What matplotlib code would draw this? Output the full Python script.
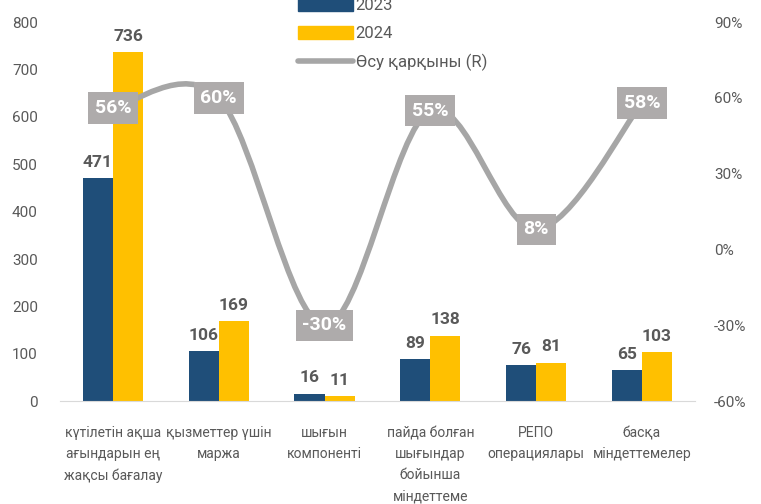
import numpy as np
import matplotlib.pyplot as plt
from matplotlib.path import Path
from matplotlib.patches import PathPatch, Patch
from matplotlib.lines import Line2D

plt.rcParams['font.family'] = ['Roboto', 'DejaVu Sans']

# Data
categories = ['күтілетін ақша\nағындарын ең\nжақсы бағалау', 'қызметтер үшін\nмаржа',
              'шығын\nкомпоненті', 'пайда болған\nшығындар\nбойынша\nміндеттеме',
              'РЕПО\nоперациялары', 'басқа\nміндеттемелер']
v2023 = [471, 106, 16, 89, 76, 65]
v2024 = [736, 169, 11, 138, 81, 103]
growth = [56, 60, -30, 55, 8, 58]

blue = '#1F4E79'
gold = '#FFC000'
grey = '#A6A6A6'
txt = '#595959'

fig = plt.figure(figsize=(7.61, 5.04), dpi=100)
ax = fig.add_axes([0.079, 0.204, 0.834, 0.752])
x = np.arange(len(categories))
w = 0.285

b1 = ax.bar(x - w / 2, v2023, w, color=blue)
b2 = ax.bar(x + w / 2, v2024, w, color=gold)
for rects in (b1, b2):
    for r in rects:
        ax.annotate(f'{int(r.get_height())}', (r.get_x() + r.get_width() / 2, r.get_height()),
                    xytext=(0, 6), textcoords='offset points', ha='center', va='bottom',
                    fontsize=12.5, fontweight='bold', color=txt)

ax.set_xlim(-0.5, len(categories) - 0.5)
ax.set_ylim(0, 800)
ax.set_yticks(range(0, 801, 100))
ax.set_xticks(x)
ax.set_xticklabels(categories, fontsize=10, color=txt, linespacing=1.65)
ax.tick_params(axis='x', length=0, pad=18)
ax.tick_params(axis='y', length=0, pad=16, labelsize=11, labelcolor=txt)
for s in ['top', 'right', 'left']:
    ax.spines[s].set_visible(False)
ax.spines['bottom'].set_color('#D9D9D9')

ax2 = ax.twinx()
ax2.set_ylim(-60, 90)
ax2.set_yticks(range(-60, 91, 30))
ax2.set_yticklabels([f'{t}%' for t in range(-60, 91, 30)])
ax2.tick_params(axis='y', length=0, pad=14, labelsize=11, labelcolor=txt)
for s in ax2.spines.values():
    s.set_visible(False)

# smoothed line as Bezier path (Excel-style smoothing)
pts = np.column_stack([x, growth]).astype(float)
verts = [tuple(pts[0])]
codes = [Path.MOVETO]
n = len(pts)
for i in range(n - 1):
    p0 = pts[i - 1] if i > 0 else pts[i]
    p1, p2 = pts[i], pts[i + 1]
    p3 = pts[i + 2] if i + 2 < n else pts[i + 1]
    c1 = p1 + (p2 - p0) / 6
    c2 = p2 - (p3 - p1) / 6
    verts += [tuple(c1), tuple(c2), tuple(p2)]
    codes += [Path.CURVE4] * 3
ax2.add_patch(PathPatch(Path(verts, codes), fill=False, edgecolor=grey, lw=4,
                        capstyle='round', zorder=3))

for xi, g in zip(x, growth):
    ax2.text(xi, g, f'{g}%', ha='center', va='center', fontsize=14, fontweight='bold',
             color='white', zorder=4,
             bbox=dict(boxstyle='square,pad=0.35', fc='#AEABAB', ec='none'))

handles = [Patch(color=blue, label='2023'), Patch(color=gold, label='2024'),
           Line2D([0], [0], color=grey, lw=4, solid_capstyle='round', label='Өсу қарқыны (R)')]
fig.legend(handles=handles, loc='upper left', bbox_to_anchor=(0.372, 1.035), frameon=False,
           fontsize=12, labelcolor=txt, handlelength=3.3, handleheight=0.9,
           labelspacing=0.75, handletextpad=0.15)

fig.savefig('out.png', dpi=100)
